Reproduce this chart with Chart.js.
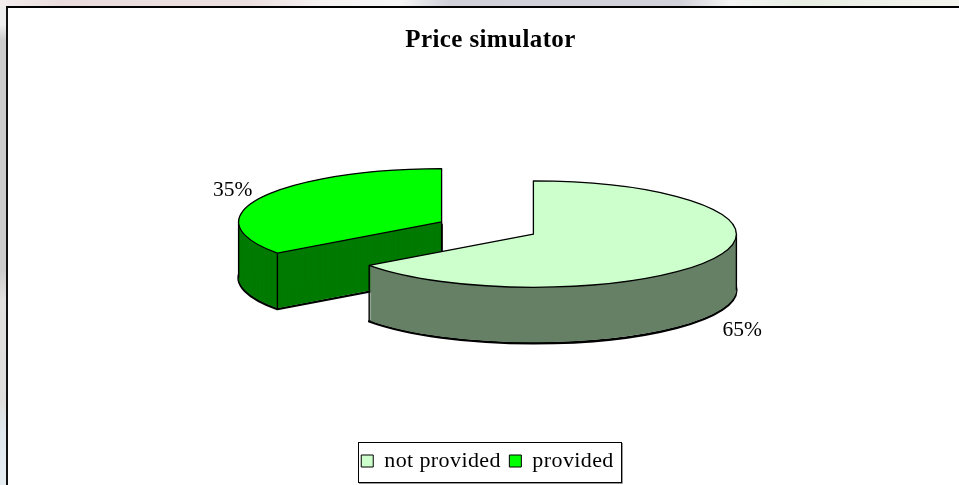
<!DOCTYPE html>
<html>
<head>
<meta charset="utf-8">
<title>Price simulator</title>
<script src="https://cdn.jsdelivr.net/npm/chart.js@4"></script>
<style>
    html, body { margin: 0; padding: 0; width: 959px; height: 485px; overflow: hidden; }
    body {
        position: relative;
        background:
            linear-gradient(to right, #f4eeee 0, #eadcdc 60px, #ecdfdf 250px, #f6f2f2 320px, #f6f6f6 400px, #cfd0d8 450px, #d2d2da 680px, #f4f4f4 730px, #e8eee4 800px, #f4f4ee 959px) top / 100% 7px no-repeat,
            linear-gradient(to bottom, #eeeeee 0, #eeeeee 25px, #cccccc 40px, #cccccc 270px, #e2e0de 300px, #e0dedc 400px, #dfe8ee 430px, #e6eef2 485px) left / 7px 100% no-repeat,
            #ffffff;
    }
    #frame {
        position: absolute; left: 6px; top: 6px; right: 0; bottom: 0;
        background: #ffffff;
        border-left: 2px solid #111111;
        border-top: 2px solid #000000;
    }
    #chart { position: absolute; left: 0; top: 0; }
</style>
</head>
<body>
<div id="frame"></div>
<canvas id="chart" width="959" height="485"></canvas>
<script>
const categories = ["not provided", "provided"];
const shares = [65, 35];
const topColors = ["#CCFFCC", "#00FF00"];
const sideColors = ["#668066", "#007A00"];

const pieCenterX = 487.5;
const pieCenterY = 228;
const squash = 0.262;
const depth = 56;
const textSpacing = "0.4px";
const legendShift = -3;

function slicePoint(arc, angle, lift) {
    const { outerRadius, startAngle, endAngle } = arc.getProps(["outerRadius", "startAngle", "endAngle"]);
    const mid = (startAngle + endAngle) / 2;
    const cx = pieCenterX + Math.cos(mid) * arc.options.offset;
    const cy = pieCenterY + Math.sin(mid) * arc.options.offset * squash + lift;
    return {
        cx, cy, mid, startAngle, endAngle, outerRadius,
        px: cx + Math.cos(angle) * outerRadius,
        py: cy + Math.sin(angle) * outerRadius * squash
    };
}

function tracePath(ctx, arc, lift) {
    const s = slicePoint(arc, 0, lift);
    ctx.beginPath();
    ctx.moveTo(s.cx, s.cy);
    ctx.ellipse(s.cx, s.cy, s.outerRadius, s.outerRadius * squash, 0, s.startAngle, s.endAngle);
    ctx.closePath();
}

function drawSlice(ctx, arc, index) {
    const s = slicePoint(arc, 0, 0);
    ctx.lineJoin = "round";

    // bottom outline first, the side fill then covers the hidden half of it
    tracePath(ctx, arc, depth);
    ctx.strokeStyle = "#000000";
    ctx.lineWidth = 2.4;
    ctx.stroke();

    ctx.fillStyle = sideColors[index];
    for (let d = depth - 1; d >= 0; d--) {
        tracePath(ctx, arc, d);
        ctx.fill();
    }

    // vertical edges of the wall
    ctx.lineWidth = 1.4;
    const edges = [s.startAngle, s.endAngle, 0, Math.PI, 2 * Math.PI].filter(a =>
        a >= s.startAngle && a <= s.endAngle && (Math.sin(a) >= -0.001)
    );
    edges.forEach(a => {
        const p = slicePoint(arc, a, 0);
        ctx.beginPath();
        ctx.moveTo(p.px, p.py);
        ctx.lineTo(p.px, p.py + depth);
        ctx.stroke();
    });
    if (Math.cos(s.mid) < 0) {
        ctx.beginPath();
        ctx.moveTo(s.cx, s.cy);
        ctx.lineTo(s.cx, s.cy + depth);
        ctx.stroke();
    }

    tracePath(ctx, arc, 0);
    ctx.fillStyle = topColors[index];
    ctx.fill();
    ctx.lineWidth = 1.3;
    ctx.stroke();
}

const tiltedPie = {
    id: "tiltedPie",
    beforeLayout(chart) {
        chart.ctx.letterSpacing = textSpacing;
    },
    afterLayout(chart) {
        chart.legend.left += legendShift;
        chart.legend.right += legendShift;
    },
    beforeDraw(chart) {
        chart.ctx.letterSpacing = textSpacing;
    },
    beforeDatasetDraw(chart) {
        const ctx = chart.ctx;
        const arcs = chart.getDatasetMeta(0).data;
        ctx.save();
        ctx.letterSpacing = "0px";
        // back slice first
        for (let i = arcs.length - 1; i >= 0; i--) {
            drawSlice(ctx, arcs[i], i);
        }
        ctx.fillStyle = "#000000";
        ctx.font = "21.5px 'Liberation Serif'";
        ctx.textAlign = "center";
        ctx.textBaseline = "middle";
        arcs.forEach((arc, i) => {
            const s = slicePoint(arc, 0, 0);
            const front = Math.sin(s.mid) > 0;
            const lx = s.cx + Math.cos(s.mid) * s.outerRadius * 1.155;
            const ly = s.cy + Math.sin(s.mid) * s.outerRadius * squash * 1.155 + (front ? depth + 12 : -4);
            ctx.fillText(shares[i] + "%", lx, ly);
        });
        ctx.restore();
        return false;
    },
    afterDraw(chart) {
        // frame around the legend entries, the legend block itself is full width
        const ctx = chart.ctx;
        const legend = chart.legend;
        const hits = legend.legendHitBoxes;
        const left = Math.round(hits[0].left) - 3;
        const right = Math.round(hits[hits.length - 1].left + hits[hits.length - 1].width) + 7;
        const top = Math.round(legend.top);
        const bottom = Math.round(legend.top + legend.height);
        ctx.save();
        ctx.strokeStyle = "#000000";
        ctx.lineWidth = 1;
        ctx.strokeRect(left + 0.5, top + 0.5, right - left, bottom - top);
        ctx.strokeStyle = "#999999";
        ctx.beginPath();
        ctx.moveTo(left + 1, bottom + 1.5);
        ctx.lineTo(right + 1.5, bottom + 1.5);
        ctx.lineTo(right + 1.5, top + 1);
        ctx.stroke();
        ctx.restore();
    }
};

new Chart(document.getElementById("chart"), {
    type: "pie",
    data: {
        labels: categories,
        datasets: [{
            data: shares,
            backgroundColor: topColors,
            borderColor: "#000000",
            borderWidth: 1,
            offset: 51.5,
            radius: 203
        }]
    },
    options: {
        responsive: false,
        animation: false,
        events: [],
        layout: { padding: { left: 22, right: 0, top: 26, bottom: 3 } },
        plugins: {
            title: {
                display: true,
                text: "Price simulator",
                color: "#000000",
                font: { family: "'Liberation Serif'", size: 25, weight: "bold" },
                padding: { top: 0, bottom: 10 }
            },
            legend: {
                position: "bottom",
                labels: {
                    color: "#000000",
                    font: { family: "'Liberation Serif'", size: 22 },
                    boxWidth: 12,
                    boxHeight: 12,
                    padding: 8.5
                }
            },
            tooltip: { enabled: false }
        }
    },
    plugins: [tiltedPie]
});
</script>
</body>
</html>
